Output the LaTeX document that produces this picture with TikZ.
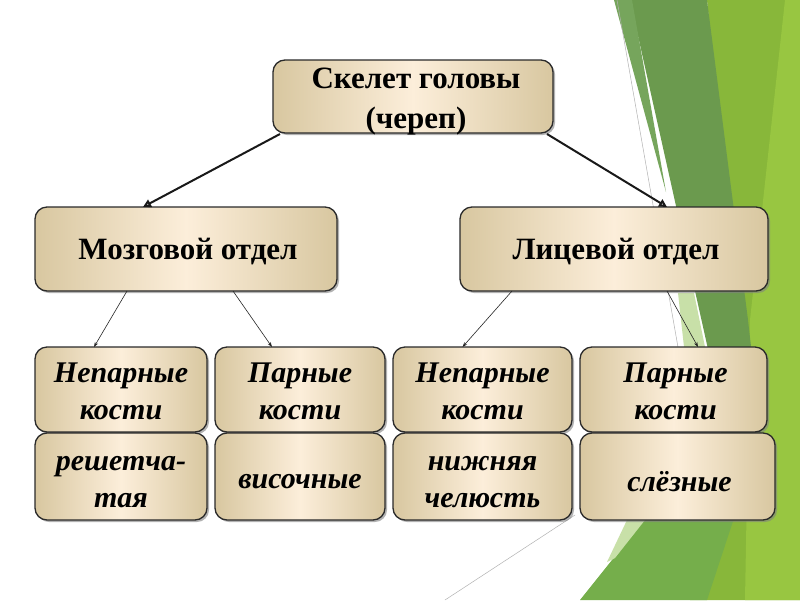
\documentclass[tikz,border=0pt]{standalone}
\usepackage{fontspec}
\setmainfont{Liberation Serif}
\usetikzlibrary{arrows.meta,shadows,calc}
\definecolor{boxedge}{HTML}{D8C7A0}
\definecolor{boxmid}{HTML}{FCEEDA}
\definecolor{boxline}{HTML}{2A2A2A}
\definecolor{gDark}{HTML}{6B9A4E}
\definecolor{gDarkLight}{HTML}{76A55C}
\definecolor{gYellow}{HTML}{88B73A}
\definecolor{gLime}{HTML}{98C641}
\definecolor{gMid}{HTML}{75AE4B}
\definecolor{gPale}{HTML}{C8E0A8}
\begin{document}
\begin{tikzpicture}[x=1pt,y=-1pt,
  box/.style={rounded corners=12pt, draw=boxline, line width=1.3pt,
    left color=boxedge, right color=boxedge, middle color=boxmid,
    inner sep=0pt, outer sep=0pt,
    drop shadow={opacity=0.6, shadow xshift=2pt, shadow yshift=-2pt}},
  headtxt/.style={font=\fontsize{31}{40}\selectfont\bfseries, align=center, inner sep=0pt},
  subtxt/.style={font=\fontsize{30}{37}\selectfont\bfseries\itshape, align=center, inner sep=0pt},
  thickarrow/.style={line width=2pt, draw=black!90, -{Triangle[open,length=8pt,width=8pt]}},
  thinarrow/.style={line width=0.6pt, draw=black!85, -{Stealth[length=5pt,width=3.5pt]}},
  deco/.style={draw=black!30, line width=0.5pt}
]
\useasboundingbox (0,0) rectangle (800,600);
\fill[white] (0,0) rectangle (800,600);
% green decoration
\fill[gYellow] (707,0) -- (800,0) -- (800,600) -- (690,600) -- (740,330) -- cycle;
\fill[gLime] (785,0) -- (800,0) -- (800,600) -- (745,600) -- (750,320) -- cycle;
\fill[gDark] (630,0) -- (707,0) -- (748,320) -- (765,470) -- (735,470) -- cycle;
\fill[gDarkLight] (614,0) -- (632,0) -- (666,192) -- cycle;
\fill[gPale] (678,293) -- (694,293) -- (705,347) -- (684,347) -- cycle;
\fill[gMid] (580,600) -- (660,500) -- (740,500) -- (707,600) -- cycle;
\fill[gPale] (607,562) -- (627,520) -- (645,520) -- (615,558) -- cycle;
\draw[deco] (617,0) -- (682,370);
\draw[deco] (445,600) -- (575,515);
% boxes
\node[box, minimum width=280pt, minimum height=73pt] (top) at (413,96.5) {};
\node[box, minimum width=302pt, minimum height=84pt] (mozg) at (186,249) {};
\node[box, minimum width=308pt, minimum height=84pt] (lits) at (614,249) {};
\node[box, minimum width=172pt, minimum height=85pt] (b1) at (121,389.5) {};
\node[box, minimum width=170pt, minimum height=85pt] (b2) at (300,389.5) {};
\node[box, minimum width=179pt, minimum height=85pt] (b3) at (482.5,389.5) {};
\node[box, minimum width=187pt, minimum height=85pt] (b4) at (673.5,389.5) {};
\node[box, minimum width=172pt, minimum height=87pt] (c1) at (121,476.5) {};
\node[box, minimum width=170pt, minimum height=87pt] (c2) at (300,476.5) {};
\node[box, minimum width=179pt, minimum height=87pt] (c3) at (482.5,476.5) {};
\node[box, minimum width=195pt, minimum height=87pt] (c4) at (677.5,476.5) {};
% texts
\node[headtxt] (ttop) at ([xshift=3pt,yshift=-5pt]top.center) {Скелет головы\\(череп)};
\node[headtxt] (tmozg) at ([xshift=2pt,yshift=-3pt]mozg.center) {Мозговой отдел};
\node[headtxt] (tlits) at ([xshift=2pt,yshift=-3pt]lits.center) {Лицевой отдел};
\node[subtxt] (tb1) at ([yshift=-2pt]b1.center) {Непарные\\кости};
\node[subtxt] (tb2) at ([yshift=-2pt]b2.center) {Парные\\кости};
\node[subtxt] (tb3) at ([yshift=-2pt]b3.center) {Непарные\\кости};
\node[subtxt] (tb4) at ([xshift=2pt,yshift=-2pt]b4.center) {Парные\\кости};
\node[subtxt] (tc1) at ([yshift=-6pt]c1.center) {решетча-\\тая};
\node[subtxt] (tc2) at ([yshift=-5pt]c2.center) {височные};
\node[subtxt] (tc3) at ([yshift=-6pt]c3.center) {нижняя\\челюсть};
\node[subtxt] (tc4) at ([xshift=2pt,yshift=-5pt]c4.center) {слёзные};
% connectors
\draw[thickarrow] ([xshift=7pt,yshift=-1pt]top.south west) -- ([xshift=-43pt]mozg.north);
\draw[thickarrow] ([xshift=-6pt,yshift=-1pt]top.south east) -- ([xshift=53pt]lits.north);
\draw[thinarrow] ([xshift=-59pt]mozg.south) -- ([xshift=-27pt]b1.north);
\draw[thinarrow] ([xshift=47pt]mozg.south) -- ([xshift=-28pt]b2.north);
\draw[thinarrow] ([xshift=-102pt]lits.south) -- ([xshift=-20pt]b3.north);
\draw[thinarrow] ([xshift=53pt]lits.south) -- ([xshift=24.5pt]b4.north);
\end{tikzpicture}
\end{document}
